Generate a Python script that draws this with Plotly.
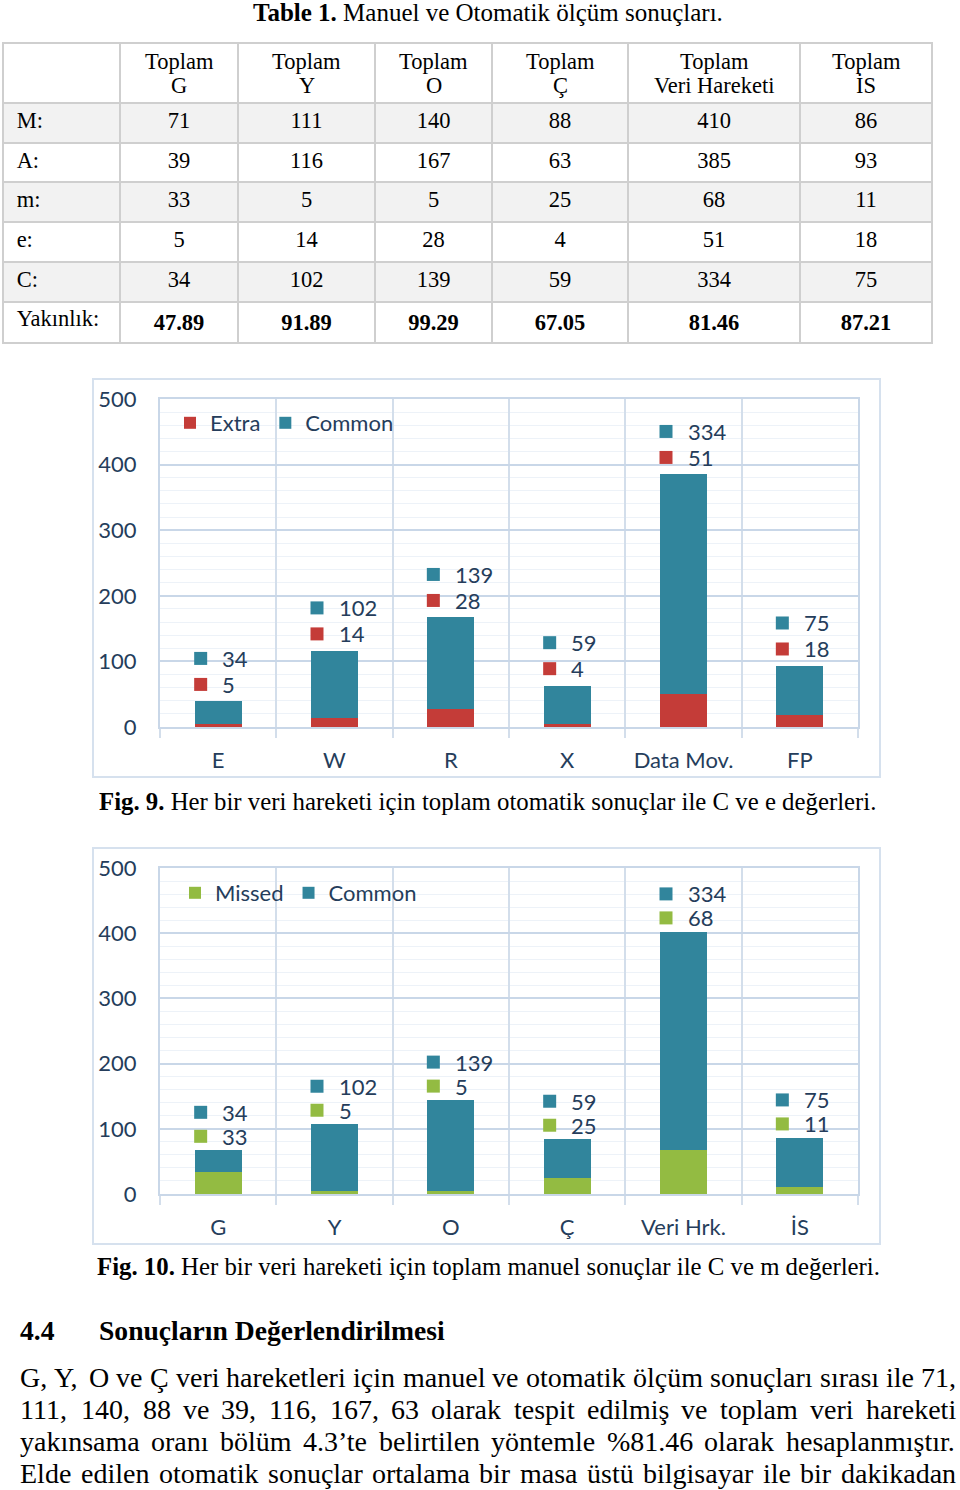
import plotly.graph_objects as go

# ---------------- data ----------------
table_headers = ["G", "Y", "O", "Ç", "Veri Hareketi", "İS"]
header_top = "Toplam"
row_labels = ["M:", "A:", "m:", "e:", "C:", "Yakınlık:"]
M_vals = [71, 111, 140, 88, 410, 86]
A_vals = [39, 116, 167, 63, 385, 93]
m_vals = [33, 5, 5, 25, 68, 11]
e_vals = [5, 14, 28, 4, 51, 18]
C_vals = [34, 102, 139, 59, 334, 75]
yakinlik = [47.89, 91.89, 99.29, 67.05, 81.46, 87.21]

cats_auto = ["E", "W", "R", "X", "Data Mov.", "FP"]
cats_manual = ["G", "Y", "O", "Ç", "Veri Hrk.", "İS"]

para_lines = [
    "G, Y, O ve Ç veri hareketleri için manuel ve otomatik ölçüm sonuçları sırası ile 71,",
    "111, 140, 88 ve 39, 116, 167, 63 olarak tespit edilmiş ve toplam veri hareketi",
    "yakınsama oranı bölüm 4.3’te belirtilen yöntemle %81.46 olarak hesaplanmıştır.",
    "Elde edilen otomatik sonuçlar ortalama bir masa üstü bilgisayar ile bir dakikadan",
]

# ---------------- style ----------------
W_PX, H_PX = 960, 1490
TEAL = "#31859c"
RED = "#c43c38"
GREEN = "#93bb42"
TXT = "#253d5b"
GRID = "#c9d7e8"
MINOR = "#edf2f8"
VGRID = "#d3deeb"
FRAME = "#d6e1ee"
SANS = "Lato"
SERIF = "Liberation Serif"
NB = "\u00a0"


def px(x):
    return x / W_PX


def py(y):
    return 1 - y / H_PX


fig = go.Figure()
shapes = []
annotations = []

# ---------------- table ----------------
TABLE_LEFT = 3
col_w = [117, 118, 137, 117, 136, 172, 132]
cols = [[NB + r for r in row_labels]]
for j in range(6):
    cols.append([M_vals[j], A_vals[j], m_vals[j], e_vals[j], C_vals[j],
                 "<b>%.2f</b>" % yakinlik[j]])
row_fill = ["#f2f2f2", "white", "#f2f2f2", "white", "#f2f2f2", "white"]
fig.add_trace(go.Table(
    domain=dict(x=[px(TABLE_LEFT), px(TABLE_LEFT + sum(col_w))], y=[py(345), py(43)]),
    columnwidth=col_w,
    header=dict(values=[""] * 7, height=60,
                fill_color="white",
                line=dict(color="#cfcfcf", width=2),
                font=dict(family=SERIF, size=22, color="black")),
    cells=dict(values=cols, height=39.7,
               align=["left"] + ["center"] * 6,
               fill_color=[row_fill] * 7,
               line=dict(color="#cfcfcf", width=2),
               font=dict(family=SERIF, size=22.5, color="black")),
))
# two-line column headers, each line centred in its column
xleft = TABLE_LEFT + col_w[0]
for j, h in enumerate(table_headers):
    xc = xleft + col_w[j + 1] / 2
    for txt, yc in [(header_top, 61), (h, 86)]:
        annotations.append(dict(xref="paper", yref="paper", x=px(xc), y=py(yc),
                                xanchor="center", yanchor="middle", showarrow=False, text=txt,
                                font=dict(family=SERIF, size=22.5, color="black")))
    xleft += col_w[j + 1]

# ---------------- bar charts ----------------
def add_chart(n, cats, low_vals, low_name, low_color, legend_name):
    xa = "x" if n == 1 else "x2"
    ya = "y" if n == 1 else "y2"
    fig.add_trace(go.Bar(x=cats, y=low_vals, name=low_name, marker_color=low_color,
                         marker_line_width=0, xaxis=xa, yaxis=ya, legend=legend_name))
    fig.add_trace(go.Bar(x=cats, y=C_vals, name="Common", marker_color=TEAL,
                         marker_line_width=0, xaxis=xa, yaxis=ya, legend=legend_name))


add_chart(1, cats_auto, e_vals, "Extra", RED, "legend")
add_chart(2, cats_manual, m_vals, "Missed", GREEN, "legend2")

axis_common_x = dict(type="category", showgrid=True, gridcolor=VGRID, gridwidth=1.5,
                     tickson="boundaries", ticks="outside", ticklen=9, tickcolor=VGRID,
                     tickwidth=1.5, showline=True, linecolor=GRID, linewidth=2, mirror=True,
                     tickfont=dict(family=SANS, size=22, color=TXT), ticklabelstandoff=13,
                     automargin=False, fixedrange=True)
axis_common_y = dict(range=[0, 500], dtick=100, showgrid=True, gridcolor=GRID, gridwidth=1.5,
                     minor=dict(dtick=20, showgrid=True, gridcolor=MINOR, gridwidth=1),
                     showline=True, linecolor=GRID, linewidth=2, mirror=True, zeroline=False,
                     tickfont=dict(family=SANS, size=22, color=TXT), ticklabelstandoff=17,
                     automargin=False, fixedrange=True)

fig.update_layout(
    xaxis=dict(domain=[px(160), px(858)], anchor="y", **axis_common_x),
    yaxis=dict(domain=[py(727), py(399)], anchor="x", **axis_common_y),
    xaxis2=dict(domain=[px(160), px(858)], anchor="y2", **axis_common_x),
    yaxis2=dict(domain=[py(1194), py(868)], anchor="x2", **axis_common_y),
    barmode="stack", bargap=0.596,
    legend=dict(orientation="h", x=px(170), y=py(423), xanchor="left", yanchor="middle",
                bgcolor="rgba(0,0,0,0)", font=dict(family=SANS, size=22, color=TXT),
                traceorder="normal"),
    legend2=dict(orientation="h", x=px(175), y=py(893), xanchor="left", yanchor="middle",
                 bgcolor="rgba(0,0,0,0)", font=dict(family=SANS, size=22, color=TXT),
                 traceorder="normal"),
)

# chart frames
for (y0, y1) in [(379, 777), (848, 1244)]:
    shapes.append(dict(type="rect", xref="paper", yref="paper", x0=px(93), x1=px(880),
                       y0=py(y1), y1=py(y0), line=dict(color=FRAME, width=2), layer="below"))


# data labels (legend key square + value) above each stack
def add_labels(xa, ya, cats, low_vals, low_color, low_shift, up_shift):
    for j, c in enumerate(cats):
        total = low_vals[j] + C_vals[j]
        for val, col, sh in [(low_vals[j], low_color, low_shift), (C_vals[j], TEAL, up_shift)]:
            shapes.append(dict(type="rect", xref=xa, yref=ya, xsizemode="pixel", ysizemode="pixel",
                               xanchor=j, yanchor=total, x0=-24, x1=-11,
                               y0=sh - 6.5, y1=sh + 6.5, fillcolor=col, line=dict(width=0)))
            annotations.append(dict(xref=xa, yref=ya, x=c, y=total, text=str(val),
                                    xanchor="left", yanchor="middle", xshift=2, yshift=sh,
                                    showarrow=False,
                                    font=dict(family=SANS, size=22, color=TXT)))


add_labels("x", "y", cats_auto, e_vals, RED, 17, 43)
add_labels("x2", "y2", cats_manual, m_vals, GREEN, 14, 38)

# title & captions
annotations.append(dict(xref="paper", yref="paper", x=px(488), y=py(13), xanchor="center",
                        yanchor="middle", showarrow=False,
                        text="<b>Table 1.</b> Manuel ve Otomatik ölçüm sonuçları.",
                        font=dict(family=SERIF, size=25, color="black")))
annotations.append(dict(xref="paper", yref="paper", x=px(97), y=py(801), xanchor="left",
                        yanchor="middle", showarrow=False,
                        text="<b>Fig. 9.</b> Her bir veri hareketi için toplam otomatik sonuçlar ile C ve e değerleri.",
                        font=dict(family=SERIF, size=24.8, color="black")))
annotations.append(dict(xref="paper", yref="paper", x=px(95), y=py(1266), xanchor="left",
                        yanchor="middle", showarrow=False,
                        text="<b>Fig. 10.</b> Her bir veri hareketi için toplam manuel sonuçlar ile C ve m değerleri.",
                        font=dict(family=SERIF, size=24.8, color="black")))
annotations.append(dict(xref="paper", yref="paper", x=px(18), y=py(1330), xanchor="left",
                        yanchor="middle", showarrow=False, text="<b>4.4</b>",
                        font=dict(family=SERIF, size=27.6, color="black")))
annotations.append(dict(xref="paper", yref="paper", x=px(97), y=py(1330), xanchor="left",
                        yanchor="middle", showarrow=False, text="<b>Sonuçların Değerlendirilmesi</b>",
                        font=dict(family=SERIF, size=27.6, color="black")))

# justified paragraph (Times metrics, units per 1000 em)
CW = {' ': 250, ',': 250, '.': 250, '%': 833, '’': 333, 'C': 667, 'E': 611, 'G': 722,
      'O': 722, 'Y': 722, 'Ç': 667, 'a': 444, 'b': 500, 'c': 444, 'd': 500, 'e': 444,
      'f': 333, 'g': 500, 'h': 500, 'i': 278, 'j': 278, 'k': 500, 'l': 278, 'm': 778,
      'n': 500, 'o': 500, 'p': 500, 'r': 333, 's': 389, 't': 278, 'u': 500, 'v': 500,
      'y': 500, 'z': 444, 'ç': 444, 'ğ': 500, 'ı': 278, 'ö': 500, 'ş': 389, 'ü': 500}
PSIZE = 28
LEFT, RIGHT = 19, 955


def word_w(w):
    return sum(CW.get(ch, 500) for ch in w) / 1000 * PSIZE


for li, line in enumerate(para_lines):
    words = line.split(" ")
    widths = [word_w(w) for w in words]
    gap = (RIGHT - LEFT - sum(widths)) / (len(words) - 1)
    xcur = LEFT
    ycen = 1377 + 32 * li
    for w, ww in zip(words, widths):
        annotations.append(dict(xref="paper", yref="paper", x=px(xcur - 1), y=py(ycen),
                                xanchor="left", yanchor="middle", showarrow=False, text=w,
                                font=dict(family=SERIF, size=PSIZE, color="black")))
        xcur += ww + gap

fig.update_layout(
    width=W_PX, height=H_PX, margin=dict(l=0, r=0, t=0, b=0, autoexpand=False),
    paper_bgcolor="white", plot_bgcolor="white",
    shapes=shapes, annotations=annotations, showlegend=True,
)

fig.write_html("out.html", config={"displayModeBar": False},
               post_script="document.body.style.margin='0px';")
